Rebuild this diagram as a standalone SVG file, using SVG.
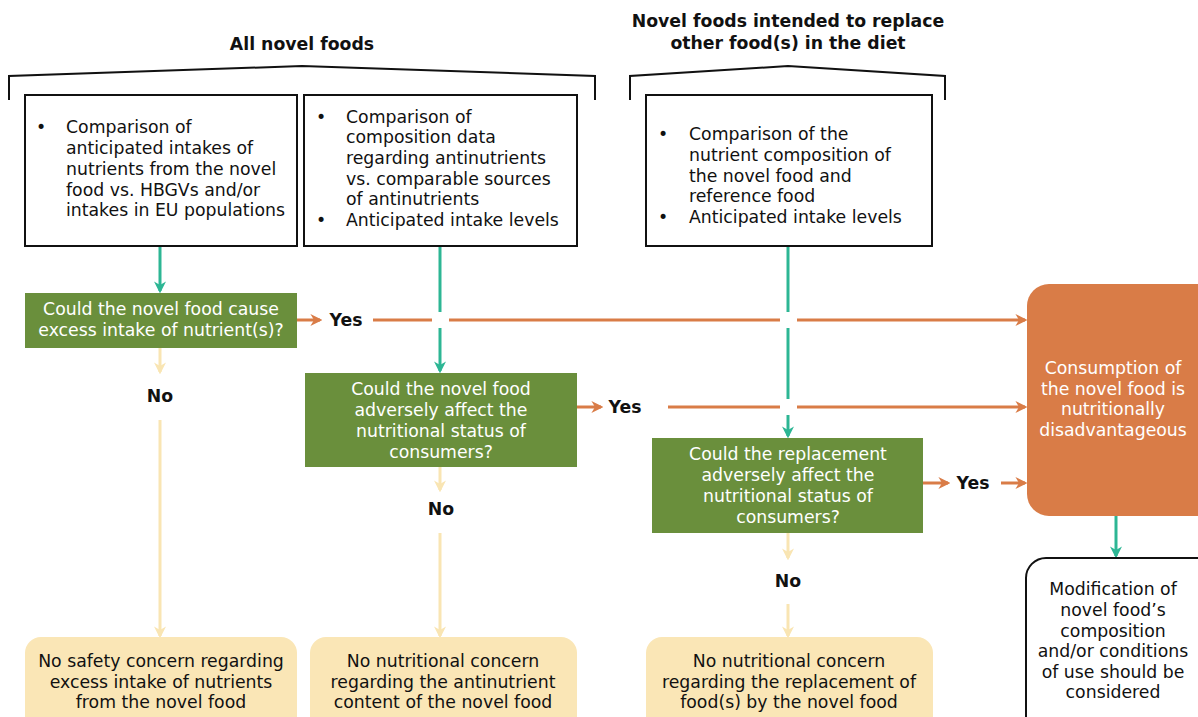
<svg xmlns="http://www.w3.org/2000/svg" width="1198" height="717" viewBox="0 0 1198 717">
<style>
text{font-family:"DejaVu Sans",Verdana,sans-serif;font-size:17.3px;fill:#111}
.c{text-anchor:middle}
.w{fill:#fff}
.b{font-weight:bold}
.box{fill:#fff;stroke:#111;stroke-width:2}
.dec{fill:#6a8f3c}
.end{fill:#fae6b6}
.t{stroke:#2db694;stroke-width:3;fill:none}
.o{stroke:#d97c47;stroke-width:3;fill:none}
.y{stroke:#f9e5b3;stroke-width:3;fill:none}
.br{stroke:#111;stroke-width:2;fill:none}
</style>
<defs>
<marker id="at" viewBox="0 0 10 10" refX="8" refY="5" markerWidth="4" markerHeight="4" orient="auto" markerUnits="strokeWidth"><path d="M0,0 L10,5 L0,10 L3,5 z" fill="#2db694"/></marker>
<marker id="ao" viewBox="0 0 10 10" refX="8" refY="5" markerWidth="4" markerHeight="4" orient="auto" markerUnits="strokeWidth"><path d="M0,0 L10,5 L0,10 L3,5 z" fill="#d97c47"/></marker>
<marker id="ay" viewBox="0 0 10 10" refX="8" refY="5" markerWidth="4" markerHeight="4" orient="auto" markerUnits="strokeWidth"><path d="M0,0 L10,5 L0,10 L3,5 z" fill="#f9e5b3"/></marker>
</defs>
<rect width="1198" height="717" fill="#fff"/>

<g id="headers">
<text class="c b" x="302" y="50">All novel foods</text>
<text class="c b" x="788" y="27">Novel foods intended to replace</text>
<text class="c b" x="788" y="49">other food(s) in the diet</text>
<path class="br" d="M9,100 L9,76 L302,66 L595,76 L595,100"/>
<path class="br" d="M630,100 L630,76 L788,66 L945,76 L945,100"/>
</g>

<g id="connectors">
<line class="t" x1="160" y1="247" x2="160" y2="291" marker-end="url(#at)"/>
<line class="t" x1="440" y1="247" x2="440" y2="371" marker-end="url(#at)"/>
<line class="t" x1="788" y1="247" x2="788" y2="436" marker-end="url(#at)"/>
<line class="t" x1="1116" y1="516" x2="1116" y2="556" marker-end="url(#at)"/>
<line class="o" x1="297" y1="320" x2="320" y2="320" marker-end="url(#ao)"/>
<line class="o" x1="373" y1="320" x2="1025" y2="320" marker-end="url(#ao)"/>
<line class="o" x1="577" y1="407" x2="601" y2="407" marker-end="url(#ao)"/>
<line class="o" x1="668" y1="407" x2="1025" y2="407" marker-end="url(#ao)"/>
<line class="o" x1="923" y1="483" x2="948" y2="483" marker-end="url(#ao)"/>
<line class="o" x1="1001" y1="483" x2="1025" y2="483" marker-end="url(#ao)"/>
<rect x="432" y="312" width="17" height="16" fill="#fff"/>
<rect x="780" y="312" width="17" height="16" fill="#fff"/>
<rect x="780" y="399" width="17" height="16" fill="#fff"/>
<line class="y" x1="160" y1="348" x2="160" y2="372" marker-end="url(#ay)"/>
<line class="y" x1="160" y1="420" x2="160" y2="636" marker-end="url(#ay)"/>
<line class="y" x1="440" y1="467" x2="440" y2="490" marker-end="url(#ay)"/>
<line class="y" x1="440" y1="533" x2="440" y2="636" marker-end="url(#ay)"/>
<line class="y" x1="788" y1="533" x2="788" y2="558" marker-end="url(#ay)"/>
<line class="y" x1="788" y1="604" x2="788" y2="636" marker-end="url(#ay)"/>
<text class="c b" x="346" y="326">Yes</text>
<text class="c b" x="625" y="413">Yes</text>
<text class="c b" x="973" y="489">Yes</text>
<text class="c b" x="160" y="402">No</text>
<text class="c b" x="441" y="515">No</text>
<text class="c b" x="788" y="587">No</text>
</g>

<g id="box1">
<rect class="box" x="25" y="95" width="272" height="151"/>
<text x="36" y="133">•</text>
<text x="66" y="133">Comparison of</text>
<text x="66" y="154">anticipated intakes of</text>
<text x="66" y="175">nutrients from the novel</text>
<text x="66" y="196">food vs. HBGVs and/or</text>
<text x="66" y="216">intakes in EU populations</text>
</g>

<g id="box2">
<rect class="box" x="304" y="95" width="273" height="151"/>
<text x="316" y="123">•</text>
<text x="346" y="123">Comparison of</text>
<text x="346" y="143">composition data</text>
<text x="346" y="164">regarding antinutrients</text>
<text x="346" y="185">vs. comparable sources</text>
<text x="346" y="205">of antinutrients</text>
<text x="316" y="226">•</text>
<text x="346" y="226">Anticipated intake levels</text>
</g>

<g id="box3">
<rect class="box" x="646" y="95" width="286" height="151"/>
<text x="658" y="140">•</text>
<text x="689" y="140">Comparison of the</text>
<text x="689" y="161">nutrient composition of</text>
<text x="689" y="182">the novel food and</text>
<text x="689" y="202">reference food</text>
<text x="658" y="223">•</text>
<text x="689" y="223">Anticipated intake levels</text>
</g>

<g id="dec1">
<rect class="dec" x="25" y="293" width="272" height="55"/>
<text class="c w" x="161" y="315">Could the novel food cause</text>
<text class="c w" x="161" y="336">excess intake of nutrient(s)?</text>
</g>

<g id="dec2">
<rect class="dec" x="305" y="373" width="272" height="94"/>
<text class="c w" x="441" y="395">Could the novel food</text>
<text class="c w" x="441" y="416">adversely affect the</text>
<text class="c w" x="441" y="437">nutritional status of</text>
<text class="c w" x="441" y="458">consumers?</text>
</g>

<g id="dec3">
<rect class="dec" x="652" y="438" width="271" height="95"/>
<text class="c w" x="788" y="460">Could the replacement</text>
<text class="c w" x="788" y="481">adversely affect the</text>
<text class="c w" x="788" y="502">nutritional status of</text>
<text class="c w" x="788" y="523">consumers?</text>
</g>

<g id="outcome">
<rect x="1027" y="284" width="200" height="232" rx="22" fill="#d97c47"/>
<text class="c w" x="1113" y="374">Consumption of</text>
<text class="c w" x="1113" y="395">the novel food is</text>
<text class="c w" x="1113" y="415">nutritionally</text>
<text class="c w" x="1113" y="436">disadvantageous</text>
</g>

<g id="modify">
<rect class="box" x="1026" y="558" width="200" height="190" rx="20"/>
<text class="c" x="1113" y="595">Modification of</text>
<text class="c" x="1113" y="616">novel food’s</text>
<text class="c" x="1113" y="637">composition</text>
<text class="c" x="1113" y="657">and/or conditions</text>
<text class="c" x="1113" y="678">of use should be</text>
<text class="c" x="1113" y="698">considered</text>
</g>

<g id="end1">
<rect class="end" x="25" y="637" width="272" height="100" rx="16"/>
<text class="c" x="161" y="667">No safety concern regarding</text>
<text class="c" x="161" y="688">excess intake of nutrients</text>
<text class="c" x="161" y="708">from the novel food</text>
</g>

<g id="end2">
<rect class="end" x="310" y="637" width="267" height="100" rx="16"/>
<text class="c" x="443" y="667">No nutritional concern</text>
<text class="c" x="443" y="688">regarding the antinutrient</text>
<text class="c" x="443" y="708">content of the novel food</text>
</g>

<g id="end3">
<rect class="end" x="646" y="637" width="287" height="100" rx="16"/>
<text class="c" x="789" y="667">No nutritional concern</text>
<text class="c" x="789" y="688">regarding the replacement of</text>
<text class="c" x="789" y="708">food(s) by the novel food</text>
</g>
</svg>
